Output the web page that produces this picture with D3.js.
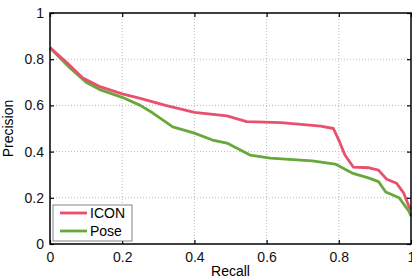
<!DOCTYPE html>
<html>
<head>
<meta charset="utf-8">
<script src="https://cdn.jsdelivr.net/npm/d3@7"></script>
<style>
  body { margin: 0; background: #fff; }
  svg text { font-family: "Liberation Sans", Arial, sans-serif; }
  .grid line { stroke: #bbb; stroke-dasharray: 1,2; }
</style>
</head>
<body>
<script>
var iconRecall    = [0, 0.05, 0.09, 0.14, 0.2, 0.25, 0.32, 0.4, 0.49, 0.545, 0.64, 0.75, 0.785, 0.8, 0.817, 0.84, 0.884, 0.91, 0.933, 0.96, 0.98, 0.995, 1];
var iconPrecision = [0.85, 0.78, 0.72, 0.68, 0.65, 0.63, 0.6, 0.57, 0.555, 0.53, 0.525, 0.51, 0.5, 0.45, 0.385, 0.333, 0.33, 0.32, 0.28, 0.263, 0.22, 0.16, 0.15];

var poseRecall    = [0, 0.05, 0.1, 0.14, 0.2, 0.25, 0.285, 0.34, 0.4, 0.45, 0.49, 0.554, 0.61, 0.726, 0.79, 0.837, 0.884, 0.91, 0.93, 0.967, 0.995, 1];
var posePrecision = [0.85, 0.77, 0.7, 0.667, 0.635, 0.6, 0.567, 0.507, 0.48, 0.45, 0.437, 0.385, 0.372, 0.36, 0.346, 0.307, 0.285, 0.27, 0.225, 0.2, 0.14, 0.12];

var xTicks = [0, 0.2, 0.4, 0.6, 0.8, 1];
var yTicks = [0, 0.2, 0.4, 0.6, 0.8, 1];
var seriesNames = ["ICON", "Pose"];
var seriesColors = ["#e8506e", "#67a83a"];

var margin = {top: 13, right: 1, bottom: 34, left: 50},
    width = 412 - margin.left - margin.right,
    height = 278 - margin.top - margin.bottom;

var svg = d3.select("body").append("svg")
    .attr("width", 412)
    .attr("height", 278)
  .append("g")
    .attr("transform", "translate(" + margin.left + "," + margin.top + ")");

var x = d3.scaleLinear().domain([0, 1]).range([0, width]);
var y = d3.scaleLinear().domain([0, 1]).range([height, 0]);

// dotted grid
svg.append("g").attr("class", "grid")
  .selectAll("line").data(xTicks.slice(1, -1))
  .enter().append("line")
    .attr("x1", x).attr("x2", x)
    .attr("y1", 0).attr("y2", height);
svg.append("g").attr("class", "grid")
  .selectAll("line").data(yTicks.slice(1, -1))
  .enter().append("line")
    .attr("y1", y).attr("y2", y)
    .attr("x1", 0).attr("x2", width);

var series = [
  {name: seriesNames[0], color: seriesColors[0], pts: d3.zip(iconRecall, iconPrecision)},
  {name: seriesNames[1], color: seriesColors[1], pts: d3.zip(poseRecall, posePrecision)}
];

var line = d3.line()
    .x(function(d) { return x(d[0]); })
    .y(function(d) { return y(d[1]); });

// draw Pose first so ICON sits on top
svg.selectAll(".curve")
    .data(series.slice().reverse())
  .enter().append("path")
    .attr("class", "curve")
    .attr("d", function(d) { return line(d.pts); })
    .attr("fill", "none")
    .attr("stroke", function(d) { return d.color; })
    .attr("stroke-width", 2.8)
    .attr("stroke-linejoin", "round");

var fmt = function(d) { return d === 0 || d === 1 ? d3.format("d")(d) : d3.format(".1f")(d); };

function styleAxis(g) {
  g.select(".domain").remove();
  g.selectAll(".tick line").attr("stroke", "#000").attr("stroke-width", 1.2);
  g.selectAll(".tick text").attr("font-size", 14).attr("fill", "#111");
}

svg.append("g")
    .attr("transform", "translate(0," + height + ")")
    .call(d3.axisBottom(x).tickValues(xTicks).tickFormat(fmt).tickSize(-4).tickPadding(8))
    .call(styleAxis);
svg.append("g")
    .call(d3.axisTop(x).tickValues(xTicks).tickFormat("").tickSize(-4))
    .call(styleAxis);
svg.append("g")
    .call(d3.axisLeft(y).tickValues(yTicks).tickFormat(fmt).tickSize(-4).tickPadding(6))
    .call(styleAxis);
svg.append("g")
    .attr("transform", "translate(" + width + ",0)")
    .call(d3.axisRight(y).tickValues(yTicks).tickFormat("").tickSize(-4))
    .call(styleAxis);

svg.append("rect")
    .attr("width", width).attr("height", height)
    .attr("fill", "none").attr("stroke", "#000").attr("stroke-width", 1.5);

svg.append("text")
    .attr("x", width / 2).attr("y", height + 32)
    .attr("text-anchor", "middle").attr("font-size", 14)
    .text("Recall");
svg.append("text")
    .attr("transform", "translate(" + (-37) + "," + (height / 2) + ")rotate(-90)")
    .attr("text-anchor", "middle").attr("font-size", 14)
    .text("Precision");

// legend
var legend = svg.append("g").attr("transform", "translate(3," + (height - 39) + ")");
legend.append("rect")
    .attr("width", 79).attr("height", 36)
    .attr("fill", "#fff").attr("stroke", "#666").attr("stroke-width", 0.8);
var item = legend.selectAll(".item").data(series)
  .enter().append("g")
    .attr("transform", function(d, i) { return "translate(0," + (8 + i * 18) + ")"; });
item.append("line")
    .attr("x1", 7).attr("x2", 34)
    .attr("stroke", function(d) { return d.color; })
    .attr("stroke-width", 2.8);
item.append("text")
    .attr("x", 37).attr("dy", "0.35em")
    .attr("font-size", 14)
    .text(function(d) { return d.name; });
</script>
</body>
</html>
